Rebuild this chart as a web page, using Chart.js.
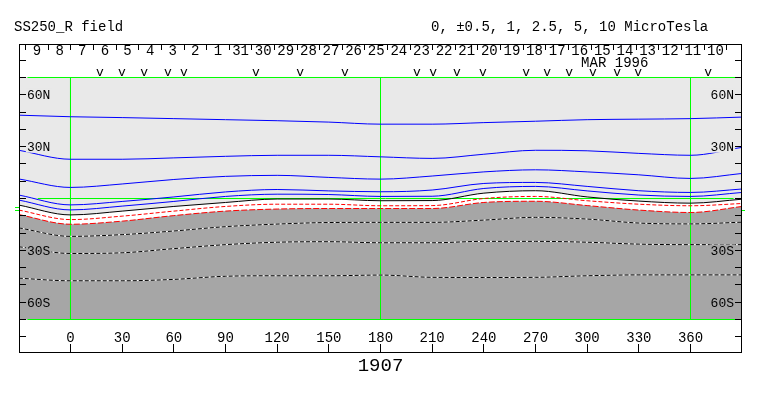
<!DOCTYPE html>
<html>
<head>
<meta charset="utf-8">
<title>SS250_R field</title>
<script src="https://cdn.jsdelivr.net/npm/chart.js@4.4.1/dist/chart.umd.min.js"></script>
<style>
  html, body { margin: 0; padding: 0; background: #fff; }
  canvas { display: block; }
</style>
</head>
<body>
<canvas id="chart" width="763" height="396"></canvas>
<script>
// Carrington longitude of each sample (deg)
const longitudes = [-30, 0, 30, 60, 90, 120, 150, 180, 210, 240, 270, 300, 330, 360, 390];

// contour latitudes (deg)
const pos10 = [48.2, 47.3, 46.8, 46.2, 45.6, 45.0, 44.2, 43.0, 43.0, 43.9, 44.7, 45.6, 45.9, 46.2, 47.1];
const pos5 = [27.9, 22.7, 22.7, 23.5, 24.4, 25.0, 25.0, 24.1, 23.2, 25.6, 27.9, 27.6, 26.1, 25.0, 29.6];
const pos2_5 = [11.3, 6.4, 8.4, 11.0, 12.8, 13.4, 12.2, 11.2, 13.0, 15.4, 16.6, 15.4, 13.7, 11.6, 14.5];
const pos1 = [2.0, -3.7, -1.7, 0.9, 3.8, 5.2, 4.4, 3.9, 4.9, 8.7, 9.3, 7.0, 4.5, 3.5, 5.5];
const pos05 = [-0.9, -6.6, -4.4, -1.7, 1.2, 2.5, 2.3, 1.2, 1.3, 5.8, 7.0, 4.4, 2.0, 1.2, 3.5];
const neutral = [-3.8, -9.5, -7.3, -4.6, -2.3, -0.3, -0.3, -1.3, -1.2, 3.1, 4.5, 0.9, -1.5, -2.7, -0.4];
const neg05 = [-6.7, -12.2, -10.2, -7.3, -4.6, -3.3, -3.3, -4.2, -4.1, 0.0, 1.2, -1.3, -3.3, -4.2, -2.9];
const neg1 = [-9.3, -14.9, -13.1, -9.9, -7.3, -6.1, -5.8, -5.8, -5.8, -2.3, -1.6, -4.1, -6.7, -8.1, -4.6];
const neg2_5 = [-17.0, -21.9, -20.9, -18.8, -16.3, -14.8, -13.9, -13.8, -13.8, -12.5, -10.9, -11.9, -14.2, -14.7, -13.7];
const neg5 = [-27.9, -31.8, -31.4, -29.0, -26.7, -25.3, -25.0, -25.6, -25.6, -24.8, -24.8, -25.3, -26.4, -26.7, -26.7];
const neg10 = [-46.1, -47.6, -47.6, -46.8, -45.0, -44.7, -44.7, -44.3, -45.6, -45.7, -45.6, -44.7, -44.2, -44.2, -44.2];

// reference lines
const meridians = [0, 180, 360];
const latLimits = [70, -70];
const limitSpan = [-25, 389];
const equatorSpan = [-19, 385];
const earthLat = [-5, -7];

// axis text
const lonTicks = [0, 30, 60, 90, 120, 150, 180, 210, 240, 270, 300, 330, 360];
const latTicks = [-80, -70, -60, -50, -40, -30, -20, -10, 0, 10, 20, 30, 40, 50, 60, 70, 80];
const latLabelValues = [60, 30, -30, -60];
const latLabels = ["60N", "30N", "30S", "60S"];
const dayLabels = [9, 8, 7, 6, 5, 4, 3, 2, 1, 31, 30, 29, 28, 27, 26, 25, 24, 23, 22, 21, 20, 19, 18, 17, 16, 15, 14, 13, 12, 11, 10];
const firstDayEdge = -26.0;
const degPerDay = 13.13;
const monthLabel = "MAR 1996";
const monthLon = 316;
const obsLongitudes = [17.1, 29.9, 42.7, 56.6, 65.9, 107.7, 133.3, 159.4, 201.2, 210.5, 224.4, 239.5, 264.5, 276.7, 289.5, 303.4, 317.4, 329.6, 370.2];
const title = "SS250_R field";
const levelsText = "0, \u00b10.5, 1, 2.5, 5, 10 MicroTesla";
const rotation = "1907";

const LIGHT = "#e9e9e9";
const DARK = "#a6a6a6";
const GREEN = "#00ff00";
const MONO = '"Liberation Mono", "DejaVu Sans Mono", monospace';

function pts(values) {
  return longitudes.map((lon, i) => ({ x: lon, y: values[i] }));
}

function contour(values, color, extra) {
  return Object.assign({
    data: pts(values),
    borderColor: color,
    borderWidth: 1,
    pointRadius: 0,
    fill: false,
    cubicInterpolationMode: "monotone",
    order: 20
  }, extra || {});
}

function area(values, color, order) {
  return {
    data: pts(values),
    borderColor: "rgba(0,0,0,0)",
    borderWidth: 0,
    backgroundColor: color,
    pointRadius: 0,
    fill: { value: latLimits[1] },
    cubicInterpolationMode: "monotone",
    order: order
  };
}

function straight(a, b) {
  return {
    data: [a, b],
    borderColor: GREEN,
    borderWidth: 1,
    pointRadius: 0,
    fill: false,
    tension: 0,
    order: 40
  };
}

const datasets = [
  area(neutral, "#ffffff", 100),
  area(neg1, DARK, 99),
  straight({ x: equatorSpan[0], y: 0 }, { x: equatorSpan[1], y: 0 }),
  ...latLimits.map(lat => straight({ x: limitSpan[0], y: lat }, { x: limitSpan[1], y: lat })),
  ...meridians.map(lon => straight({ x: lon, y: latLimits[0] }, { x: lon, y: latLimits[1] })),
  contour(pos10, "#0000ff"),
  contour(pos5, "#0000ff"),
  contour(pos2_5, "#0000ff"),
  contour(pos1, "#0000ff"),
  contour(pos05, "#0000ff"),
  contour(neutral, "#000000", { order: 15 }),
  contour(neg05, "#ff0000", { borderDash: [4, 2] }),
  contour(neg1, "#ff0000", { borderDash: [6, 2] }),
  ...[neg2_5, neg5, neg10].map(v => contour(v, "#ffffff", { order: 30 })),
  ...[neg2_5, neg5, neg10].map(v => contour(v, "#000000", { order: 29, borderDash: [4, 2] }))
];

const decorations = {
  id: "decorations",
  beforeDatasetsDraw(chart) {
    const { ctx, chartArea: a, scales: { y } } = chart;
    const top = Math.floor(y.getPixelForValue(latLimits[0]));
    const bot = Math.ceil(y.getPixelForValue(latLimits[1]));
    ctx.save();
    ctx.fillStyle = LIGHT;
    ctx.fillRect(a.left, top, a.right - a.left, bot - top);
    ctx.restore();
  },
  afterDatasetsDraw(chart) {
    const { ctx, chartArea: a, scales: { x, y } } = chart;
    const crisp = v => Math.floor(v) + 0.5;
    ctx.save();

    // latitude labels, left and right, on their own patch of background
    ctx.font = "13px " + MONO;
    ctx.textBaseline = "alphabetic";
    latLabelValues.forEach((lat, i) => {
      const py = y.getPixelForValue(lat);
      const txt = latLabels[i];
      const w = ctx.measureText(txt).width;
      ctx.fillStyle = lat > 0 ? LIGHT : DARK;
      ctx.fillRect(a.left + 7, py - 6, w + 2, 12);
      ctx.fillRect(a.right - 9 - w, py - 6, w + 2, 12);
      ctx.fillStyle = "#000";
      ctx.textAlign = "left";
      ctx.fillText(txt, a.left + 8, py + 4.5);
      ctx.textAlign = "right";
      ctx.fillText(txt, a.right - 8, py + 4.5);
    });

    // ticks
    ctx.strokeStyle = "#000";
    ctx.lineWidth = 1;
    ctx.beginPath();
    latTicks.forEach(lat => {
      const py = crisp(y.getPixelForValue(lat));
      ctx.moveTo(a.left, py); ctx.lineTo(a.left + 7, py);
      ctx.moveTo(a.right - 7, py); ctx.lineTo(a.right, py);
    });
    lonTicks.forEach(lon => {
      const px = crisp(x.getPixelForValue(lon));
      ctx.moveTo(px, a.bottom); ctx.lineTo(px, a.bottom - 9);
    });
    for (let k = 0; k <= dayLabels.length; k++) {
      const px = crisp(x.getPixelForValue(firstDayEdge + k * degPerDay));
      ctx.moveTo(px, a.top); ctx.lineTo(px, a.top + 6);
    }
    ctx.stroke();

    // earth latitude marks
    ctx.strokeStyle = GREEN;
    ctx.beginPath();
    earthLat.forEach(lat => {
      const py = crisp(y.getPixelForValue(lat));
      ctx.moveTo(a.left - 4, py); ctx.lineTo(a.left, py);
    });
    const pe = crisp(y.getPixelForValue(earthLat[1]));
    ctx.moveTo(a.right, pe); ctx.lineTo(a.right + 3, pe);
    ctx.stroke();

    // longitude labels
    ctx.fillStyle = "#000";
    ctx.font = "14px " + MONO;
    ctx.textAlign = "center";
    lonTicks.forEach(lon => ctx.fillText(String(lon), x.getPixelForValue(lon), a.bottom - 11));

    // days, month, observation marks
    dayLabels.forEach((d, k) => {
      ctx.fillText(String(d), x.getPixelForValue(firstDayEdge + (k + 0.5) * degPerDay), a.top + 11);
    });
    ctx.fillText(monthLabel, x.getPixelForValue(monthLon), a.top + 23);
    ctx.font = "13px " + MONO;
    obsLongitudes.forEach(lon => ctx.fillText("v", x.getPixelForValue(lon), a.top + 32));

    // titles
    ctx.font = "14px " + MONO;
    ctx.textAlign = "left";
    ctx.fillText(title, 14, 31);
    ctx.fillText(levelsText, 431, 31);
    ctx.font = "19px " + MONO;
    ctx.textAlign = "center";
    ctx.fillText(rotation, x.getPixelForValue(180), 371);

    // frame
    ctx.strokeStyle = "#000";
    ctx.strokeRect(a.left + 0.5, a.top + 0.5, a.right - a.left - 1, a.bottom - a.top - 1);
    ctx.restore();
  }
};

new Chart(document.getElementById("chart").getContext("2d"), {
  type: "line",
  data: { datasets: datasets },
  options: {
    responsive: false,
    animation: false,
    devicePixelRatio: 1,
    events: [],
    layout: { padding: { left: 19, top: 44, right: 21, bottom: 43 } },
    plugins: { legend: { display: false }, tooltip: { enabled: false } },
    scales: {
      x: { type: "linear", min: -29.9, max: 389.9, display: false },
      y: { type: "linear", min: -89.38, max: 89.38, display: false }
    }
  },
  plugins: [decorations]
});
</script>
</body>
</html>
